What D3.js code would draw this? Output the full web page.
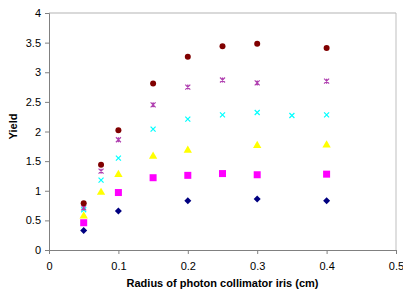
<!DOCTYPE html>
<html>
<head>
<meta charset="utf-8">
<script src="https://cdn.jsdelivr.net/npm/d3@7"></script>
<style>
  body { margin: 0; background: white; }
  svg { display: block; font-family: 'Liberation Sans', Arial, sans-serif; }
</style>
</head>
<body>
<script>
// Tick values
const xTicks = [0, 0.1, 0.2, 0.3, 0.4, 0.5]
const yTicks = [0, 0.5, 1, 1.5, 2, 2.5, 3, 3.5, 4]

// Series: [radius, yield]
const circleSeries = [[0.05, 0.79], [0.075, 1.44], [0.1, 2.02], [0.15, 2.81], [0.2, 3.26], [0.25, 3.44], [0.3, 3.48], [0.4, 3.41]]
const starSeries = [[0.05, 0.71], [0.075, 1.33], [0.1, 1.86], [0.15, 2.45], [0.2, 2.75], [0.25, 2.87], [0.3, 2.82], [0.4, 2.85]]
const crossSeries = [[0.05, 0.68], [0.075, 1.18], [0.1, 1.55], [0.15, 2.04], [0.2, 2.21], [0.25, 2.28], [0.3, 2.32], [0.35, 2.27], [0.4, 2.28]]
const triangleSeries = [[0.05, 0.58], [0.075, 0.98], [0.1, 1.28], [0.15, 1.59], [0.2, 1.69], [0.3, 1.77], [0.4, 1.78]]
const squareSeries = [[0.05, 0.46], [0.1, 0.97], [0.15, 1.22], [0.2, 1.26], [0.25, 1.29], [0.3, 1.27], [0.4, 1.28]]
const diamondSeries = [[0.05, 0.33], [0.1, 0.66], [0.2, 0.83], [0.3, 0.86], [0.4, 0.83]]

const width = 403, height = 292
const margin = { top: 13, right: 7, bottom: 42, left: 49 }

const svg = d3.select('body').append('svg')
    .attr('width', width).attr('height', height)

const x = d3.scaleLinear().domain([0, 0.5]).range([margin.left, width - margin.right])
const y = d3.scaleLinear().domain([0, 4]).range([height - margin.bottom, margin.top])

// plot frame (top and right in light gray)
svg.append('line')
    .attr('x1', x(0)).attr('x2', x(0.5)).attr('y1', y(4)).attr('y2', y(4))
    .attr('stroke', '#d9d9d9').attr('stroke-width', 2)
svg.append('line')
    .attr('x1', x(0.5)).attr('x2', x(0.5)).attr('y1', y(4)).attr('y2', y(0))
    .attr('stroke', '#bfbfbf').attr('stroke-width', 1)

// axes
const xAxis = svg.append('g')
    .attr('transform', `translate(0,${y(0)})`)
    .call(d3.axisBottom(x).tickValues(xTicks).tickSize(4).tickPadding(8).tickFormat(d3.format('')))
const yAxis = svg.append('g')
    .attr('transform', `translate(${x(0)},0)`)
    .call(d3.axisLeft(y).tickValues(yTicks).tickSize(4).tickPadding(4).tickFormat(d3.format('')))

;[xAxis, yAxis].forEach(g => {
  g.select('.domain').attr('stroke', '#808080')
  g.selectAll('.tick line').attr('stroke', '#808080')
  g.selectAll('.tick text').attr('fill', '#000').attr('font-size', 11)
    .attr('font-family', "'Liberation Sans', Arial, sans-serif")
})

// axis titles
svg.append('text')
    .attr('x', (x(0) + x(0.5)) / 2).attr('y', 287)
    .attr('text-anchor', 'middle').attr('font-weight', 'bold').attr('font-size', 11)
    .text('Radius of photon collimator iris (cm)')
svg.append('text')
    .attr('transform', `translate(17,${(y(0) + y(4)) / 2 - 5}) rotate(-90)`)
    .attr('text-anchor', 'middle').attr('font-weight', 'bold').attr('font-size', 11)
    .text('Yield')

// markers
const marks = svg.append('g')

marks.selectAll('.dia').data(diamondSeries).join('path')
    .attr('d', 'M0,-3.5L3.5,0L0,3.5L-3.5,0Z')
    .attr('transform', d => `translate(${x(d[0])},${y(d[1])})`)
    .attr('fill', '#000080')

marks.selectAll('.sq').data(squareSeries).join('rect')
    .attr('x', d => x(d[0]) - 3.5).attr('y', d => y(d[1]) - 3.5)
    .attr('width', 7).attr('height', 7)
    .attr('fill', '#ff00ff')

marks.selectAll('.tri').data(triangleSeries).join('path')
    .attr('d', d3.symbol(d3.symbolTriangle, 30))
    .attr('transform', d => `translate(${x(d[0])},${y(d[1]) + 0.5})`)
    .attr('fill', '#ffff00')

marks.selectAll('.cr').data(crossSeries).join('path')
    .attr('d', 'M-2.5,-2.5L2.5,2.5M-2.5,2.5L2.5,-2.5')
    .attr('transform', d => `translate(${x(d[0])},${y(d[1])})`)
    .attr('stroke', '#00ffff').attr('stroke-width', 1.2).attr('fill', 'none')

marks.selectAll('.st').data(starSeries).join('path')
    .attr('d', 'M-2.5,-2.5L2.5,2.5M-2.5,2.5L2.5,-2.5M0,-2.5L0,2.5')
    .attr('transform', d => `translate(${x(d[0])},${y(d[1])})`)
    .attr('stroke', '#b040b0').attr('stroke-width', 1.2).attr('fill', 'none')

marks.selectAll('.ci').data(circleSeries).join('circle')
    .attr('cx', d => x(d[0])).attr('cy', d => y(d[1])).attr('r', 3)
    .attr('fill', '#800000')
</script>
</body>
</html>
